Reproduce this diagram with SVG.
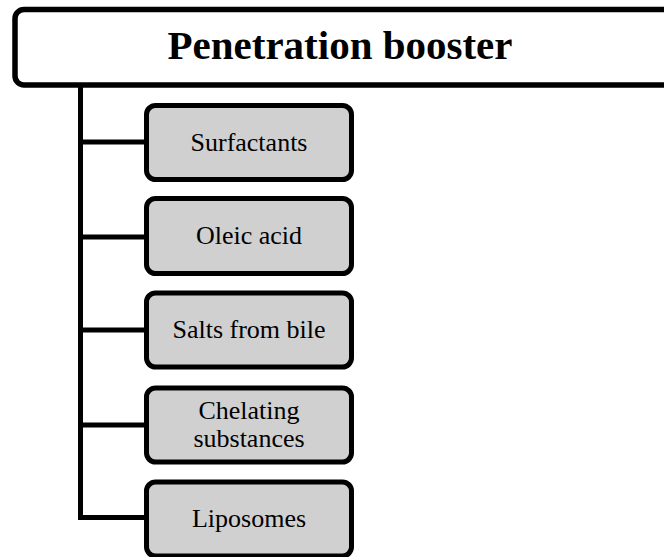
<svg xmlns="http://www.w3.org/2000/svg" width="664" height="557" viewBox="0 0 664 557">
<style>
.root{fill:#ffffff;stroke:#000;stroke-width:5.5}
.box{fill:#d0d0d0;stroke:#000;stroke-width:5}
.conn{fill:none;stroke:#000;stroke-width:5}
text{font-family:"Liberation Serif","Times New Roman",serif;fill:#000;text-anchor:middle}
.t1{font-size:41px;font-weight:bold}
.t2{font-size:26px}
</style>
<g id="connectors">
<path class="conn" d="M80.5 85V517.5"/>
<path class="conn" d="M78 142H146"/>
<path class="conn" d="M78 237H146"/>
<path class="conn" d="M78 330H146"/>
<path class="conn" d="M78 425H146"/>
<path class="conn" d="M78 517.5H146"/>
</g>
<g id="root">
<rect class="root" x="15" y="9.5" width="660" height="75.5" rx="9"/>
<text class="t1" x="340" y="59">Penetration booster</text>
</g>
<g id="surfactants">
<rect class="box" x="146.5" y="105.5" width="205" height="74" rx="9"/>
<text class="t2" x="249" y="151">Surfactants</text>
</g>
<g id="oleic">
<rect class="box" x="146.5" y="198.5" width="205" height="75" rx="9"/>
<text class="t2" x="249" y="244">Oleic acid</text>
</g>
<g id="salts">
<rect class="box" x="146.5" y="293" width="205" height="74" rx="9"/>
<text class="t2" x="249" y="338">Salts from bile</text>
</g>
<g id="chelating">
<rect class="box" x="146.5" y="388" width="205" height="74" rx="9"/>
<text class="t2" x="249" y="419">Chelating</text>
<text class="t2" x="249" y="447">substances</text>
</g>
<g id="liposomes">
<rect class="box" x="146.5" y="482" width="205" height="74" rx="9"/>
<text class="t2" x="249" y="527">Liposomes</text>
</g>
</svg>
